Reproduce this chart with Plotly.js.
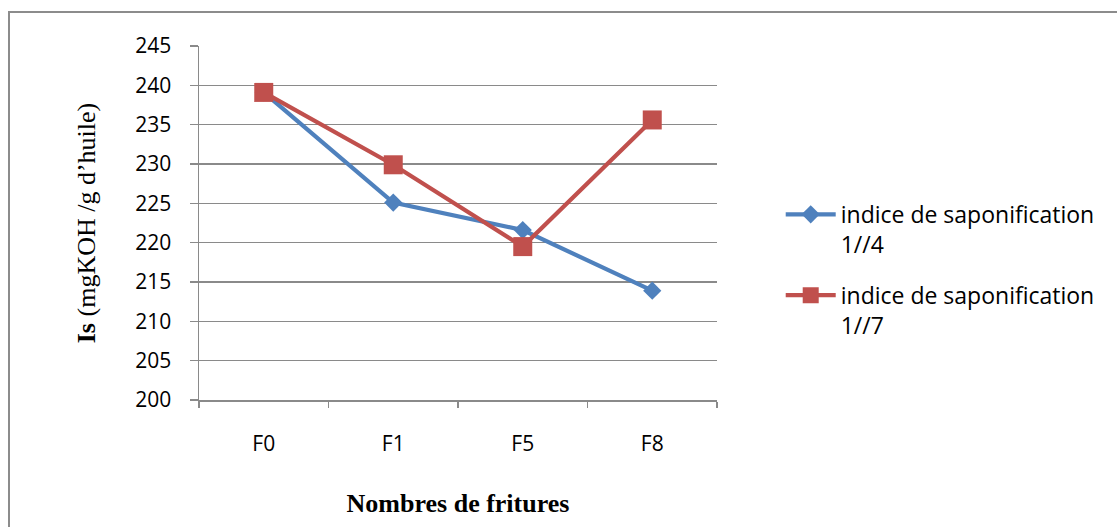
<!DOCTYPE html>
<html>
<head>
<meta charset="utf-8">
<script src="https://cdn.plot.ly/plotly-3.0.1.min.js"></script>
<style>
  html, body { margin: 0; padding: 0; background: #ffffff; }
  #frame { position: absolute; left: 8px; top: 11px; width: 1200px; height: 600px;
           border-left: 2px solid #8c8c8c; border-top: 2px solid #8c8c8c; }
  #chart { position: absolute; left: 0; top: 0; width: 1117px; height: 527px; }
</style>
</head>
<body>
<div id="frame"></div>
<div id="chart"></div>
<script>
// Saponification index over successive fryings
const categories = ['F0', 'F1', 'F5', 'F8'];
const serie14 = [239.1, 225.1, 221.6, 213.9];
const serie17 = [239.1, 229.9, 219.5, 235.6];
const seriesNames = ['indice de saponification<br>1//4', 'indice de saponification<br>1//7'];
const yTicks = [200, 205, 210, 215, 220, 225, 230, 235, 240, 245];

const blue = '#4F81BD';
const red = '#C0504D';
const gridGray = '#8a8a8a';

const traces = [
  {
    x: categories, y: serie14, name: seriesNames[0], legendgroup: 'a',
    type: 'scatter', mode: 'lines+markers',
    line: { color: blue, width: 4.2 },
    marker: { symbol: 'diamond', size: 14, color: blue }
  },
  {
    x: categories, y: serie17, name: seriesNames[1], legendgroup: 'b',
    type: 'scatter', mode: 'lines+markers',
    line: { color: red, width: 4.2 },
    marker: { symbol: 'square', size: 19, color: red }
  }
];

const layout = {
  width: 1117, height: 527,
  margin: { l: 199, r: 400, t: 46, b: 127, pad: 0 },
  paper_bgcolor: 'rgba(0,0,0,0)',
  plot_bgcolor: 'rgba(0,0,0,0)',
  font: { family: '"Open Sans", sans-serif', size: 22, color: '#000000' },
  showlegend: true,
  legend: {
    x: 1.123, xanchor: 'left', y: 0.585, yanchor: 'top',
    font: { family: '"Open Sans", sans-serif', size: 23, color: '#000000' },
    valign: 'top', tracegroupgap: 18, itemwidth: 50,
    bgcolor: 'rgba(0,0,0,0)'
  },
  xaxis: {
    type: 'category', categoryarray: categories, range: [-0.5, 3.5],
    tickson: 'boundaries', ticks: 'outside', ticklen: 6, tickcolor: gridGray, tickwidth: 1.5,
    showgrid: false, showline: true, linecolor: gridGray, linewidth: 1.5,
    zeroline: false, ticklabelstandoff: 24,
    tickfont: { family: '"Open Sans", sans-serif', size: 21 },
    title: {
      text: '<b>Nombres de fritures</b>', standoff: 38,
      font: { family: '"Liberation Serif", "Times New Roman", serif', size: 26 }
    }
  },
  yaxis: {
    range: [200, 245], tickvals: yTicks, ticktext: yTicks.map(String),
    ticks: 'outside', ticklen: 8, tickcolor: gridGray, tickwidth: 1.5,
    showgrid: true, gridcolor: gridGray, gridwidth: 1.5,
    showline: true, linecolor: gridGray, linewidth: 1.5, zeroline: false,
    ticklabelstandoff: 14,
    tickfont: { family: '"Open Sans", sans-serif', size: 21 },
    title: {
      text: '<b>Is</b> (mgKOH /g d\u2019huile)', standoff: 32,
      font: { family: '"Liberation Serif", "Times New Roman", serif', size: 26 }
    }
  }
};

Plotly.newPlot('chart', traces, layout, { displayModeBar: false, staticPlot: true });
</script>
</body>
</html>
